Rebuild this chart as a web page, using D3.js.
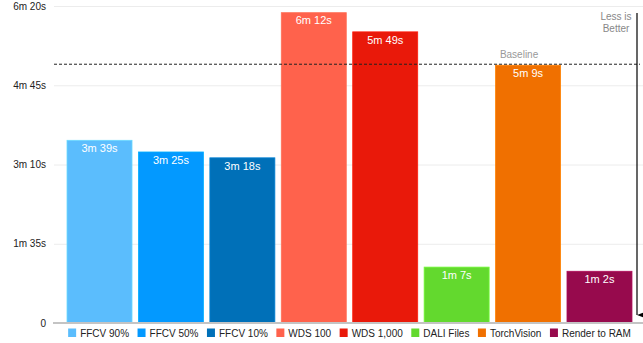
<!DOCTYPE html>
<html>
<head>
<meta charset="utf-8">
<script src="https://cdn.jsdelivr.net/npm/d3@7"></script>
<style>
  body { margin: 0; background: #fff; }
  svg text { font-family: "Liberation Sans", Arial, Helvetica, sans-serif; }
</style>
</head>
<body>
<svg id="chart" width="643" height="343"></svg>
<script>
// chart data, times in seconds
const categories = ['FFCV 90%', 'FFCV 50%', 'FFCV 10%', 'WDS 100', 'WDS 1,000', 'DALI Files', 'TorchVision', 'Render to RAM'];
const seconds = [219, 205, 198, 372, 349, 67, 309, 62];
const colors = ['#5bbdfd', '#0399ff', '#0070b8', '#ff624c', '#e9190a', '#63d92e', '#f07000', '#970a4d'];
const tickValues = [0, 95, 190, 285, 380];
const baselineValue = 309;

const svg = d3.select('#chart');

const y = d3.scaleLinear().domain([0, 380]).range([323, 6]);
const x = d3.scaleBand().domain(categories).range([63.8, 635.2]).paddingInner(0.09).paddingOuter(0.045);

// format seconds as "Xm Ys"
function fmt(v) {
  if (v === 0) return '0';
  return Math.floor(v / 60) + 'm ' + (v % 60) + 's';
}

// gridlines + y labels
const yAxis = d3.axisLeft(y).tickValues(tickValues).tickFormat(fmt).tickSize(-589).tickPadding(8);
const gy = svg.append('g').attr('transform', 'translate(54,0)').call(yAxis);
gy.select('.domain').remove();
gy.selectAll('.tick line').attr('stroke', '#ececec').attr('stroke-width', 1);
gy.selectAll('.tick text').attr('font-size', 10).attr('fill', '#222').attr('font-family', '"Liberation Sans", Arial, sans-serif');
gy.selectAll('.tick').filter(d => d === 0).select('line').remove();

// bars
svg.append('g').selectAll('rect').data(categories).join('rect')
  .attr('x', d => x(d))
  .attr('y', (d, i) => y(seconds[i]))
  .attr('width', x.bandwidth())
  .attr('height', (d, i) => y(0) - y(seconds[i]))
  .attr('fill', (d, i) => colors[i])
  .attr('stroke', (d, i) => d3.color(colors[i]).brighter(0.4))
  .attr('stroke-width', 0.8);

// value labels inside bars
svg.append('g').selectAll('text').data(categories).join('text')
  .attr('x', d => x(d) + x.bandwidth() / 2)
  .attr('y', (d, i) => y(seconds[i]) + 11.8)
  .attr('text-anchor', 'middle')
  .attr('font-size', 11)
  .attr('fill', '#fff')
  .text((d, i) => fmt(seconds[i]));

// bottom axis line
svg.append('line').attr('x1', 53).attr('x2', 643).attr('y1', y(0)).attr('y2', y(0))
  .attr('stroke', '#c4c4c4').attr('stroke-width', 2);

// baseline
svg.append('line').attr('x1', 54).attr('x2', 640).attr('y1', y(baselineValue) - 1).attr('y2', y(baselineValue) - 1)
  .attr('stroke', '#222').attr('stroke-width', 1).attr('stroke-dasharray', '3,2');
svg.append('text').attr('x', x('TorchVision') + x.bandwidth() / 2 - 9).attr('y', 58)
  .attr('text-anchor', 'middle').attr('font-size', 10).attr('fill', '#999').text('Baseline');

// "less is better" arrow
svg.append('defs').append('marker').attr('id', 'arrowhead')
  .attr('viewBox', '0 0 6 8').attr('refX', 3).attr('refY', 8)
  .attr('markerWidth', 6).attr('markerHeight', 8).attr('markerUnits', 'userSpaceOnUse')
  .attr('orient', 'auto-start-reverse')
  .append('path').attr('d', 'M0,0 L6,0 L3,8 Z').attr('fill', '#000');
svg.append('line').attr('x1', 637).attr('x2', 637).attr('y1', 13).attr('y2', 315)
  .attr('stroke', '#000').attr('stroke-width', 1.2).attr('marker-end', 'url(#arrowhead)');
svg.append('text').attr('x', 616).attr('y', 20).attr('text-anchor', 'middle')
  .attr('font-size', 10).attr('fill', '#888').text('Less is');
svg.append('text').attr('x', 616).attr('y', 32).attr('text-anchor', 'middle')
  .attr('font-size', 10).attr('fill', '#888').text('Better');

// legend, laid out from measured text widths then centred
const legend = svg.append('g').attr('class', 'legend');
let cx = 0;
categories.forEach((c, i) => {
  const item = legend.append('g').attr('transform', 'translate(' + cx + ',0)');
  item.append('rect').attr('x', 0).attr('y', -8.5).attr('width', 8).attr('height', 8.5).attr('fill', colors[i]);
  const t = item.append('text').attr('x', 12).attr('y', 0).attr('font-size', 10).attr('fill', '#222').text(c);
  cx += 12 + t.node().getComputedTextLength() + 8.5;
});
const legendW = cx - 8.5;
legend.attr('transform', 'translate(' + (349.5 - legendW / 2) + ',337)');
</script>
</body>
</html>
